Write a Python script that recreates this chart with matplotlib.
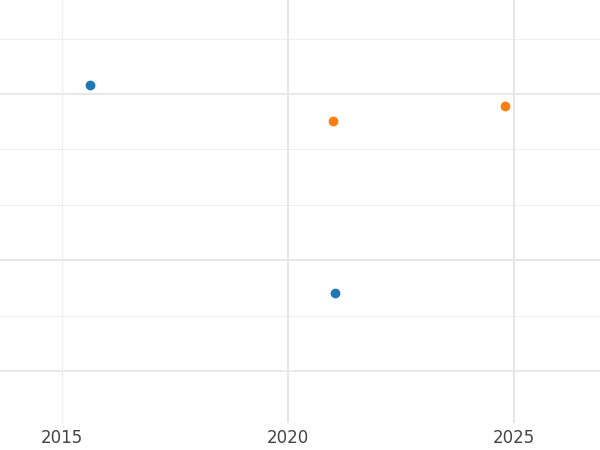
import matplotlib
matplotlib.use("Agg")
import matplotlib.pyplot as plt

blue_x = [2015.62, 2021.04]
blue_y = [6.17, 2.41]
orange_x = [2020.99, 2024.8]
orange_y = [5.51, 5.78]
x_ticks = [2015, 2020, 2025]

fig = plt.figure(figsize=(6, 4.5), dpi=100)
ax = fig.add_axes([0, 0.06, 1, 0.94])
ax.set_xlim(2013.63, 2026.9)
ax.set_ylim(0.06, 7.7)

for y in [1, 3, 6]:
    ax.axhline(y, color="#e6e6e6", linewidth=1.3, zorder=0)
for y in [2, 4, 5, 7]:
    ax.axhline(y, color="#efefef", linewidth=0.8, zorder=0)
ax.axvline(2015, color="#efefef", linewidth=0.9, zorder=0)
for x in [2020, 2025]:
    ax.axvline(x, color="#e6e6e6", linewidth=1.5, zorder=0)

ax.scatter(blue_x, blue_y, s=36, color="#1f77b4", zorder=3)
ax.scatter(orange_x, orange_y, s=36, color="#ff7f0e", zorder=3)

ax.set_xticks(x_ticks)
ax.set_xticklabels([str(t) for t in x_ticks], fontsize=12, color="#444444")
ax.set_yticks([])
ax.tick_params(axis="x", length=0, pad=4)
for s in ax.spines.values():
    s.set_visible(False)

fig.savefig("out.png", dpi=100)
